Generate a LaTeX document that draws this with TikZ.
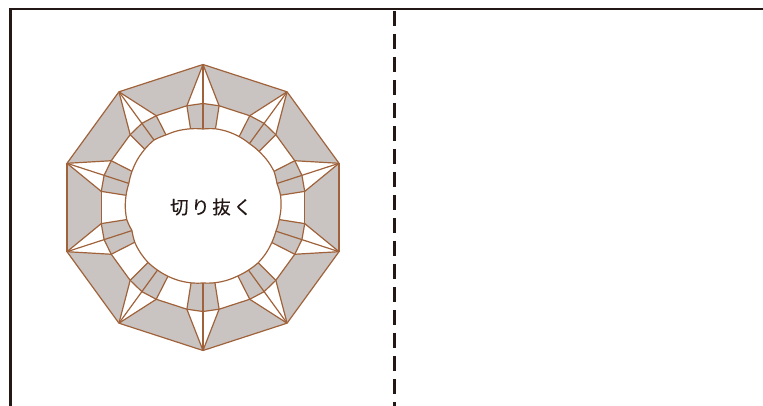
\documentclass[tikz,border=0pt]{standalone}
\usepackage{fontspec}
\usepackage{xcolor}
\newfontfamily\cjk[LetterSpace=14,FakeBold=0.25]{Noto Sans CJK JP}
\definecolor{framecol}{HTML}{231815}
\definecolor{cutcol}{HTML}{A0623A}
\definecolor{bandcol}{HTML}{C9C4C2}

\begin{document}
\begin{tikzpicture}[
  x=1pt, y=1pt,
  frameline/.style={draw=framecol, line width=2.8pt},
  foldline/.style={frameline, dash pattern=on 15.5pt off 7.5pt},
  band/.style={fill=bandcol},
  cut/.style={draw=cutcol, line width=1.2pt, line join=round},
  label/.style={font=\cjk\fontsize{18.5}{18.5}\selectfont, text=framecol, inner sep=0pt}
]
\useasboundingbox (0,0) rectangle (763,406);
\coordinate (corner) at (10.5,397);
\coordinate (foldtop) at (394.5,395);
\draw[frameline] (10.5,0) -- (corner) -- (763,397);
\draw[foldline] (foldtop) -- (394.5,0);

\begin{scope}[shift={(203,198.5)}]
\foreach \ang/\rl/\rc/\rr in {18/79.7/77.8/78.5, 54/79.6/79/79.3, 90/79.7/78.5/79.7,
    126/82.4/83.4/81.5, 162/77.9/78/79.7, 198/76.6/74.7/77.2, 234/77.2/77.4/77.7,
    270/76.2/75.5/76.3, 306/78.1/77.4/76.8, 342/77.2/76.7/77.2}{
  \coordinate (v\ang) at (\ang:143);
  \coordinate (m\ang) at (\ang:104);
  \coordinate (a\ang) at ({\ang+9}:103);
  \coordinate (b\ang) at ({\ang-9}:103);
  \coordinate (p\ang) at ({\ang+9}:\rl);
  \coordinate (c\ang) at (\ang:\rc);
  \coordinate (q\ang) at ({\ang-9}:\rr);
}
\foreach \ang/\nxt in {18/54, 54/90, 90/126, 126/162, 162/198, 198/234, 234/270, 270/306, 306/342, 342/18}{
  \fill[band] (v\ang) -- (v\nxt) -- (b\nxt) -- (a\ang) -- cycle;
  \fill[band] (b\ang) -- (m\ang) -- (a\ang) -- (p\ang) to[bend left=4] (c\ang) to[bend left=4] (q\ang) -- cycle;
}
\foreach \ang/\nxt in {18/54, 54/90, 90/126, 126/162, 162/198, 198/234, 234/270, 270/306, 306/342, 342/18}{
  \draw[cut] (v\ang) -- (v\nxt);
  \draw[cut] (a\ang) -- (b\nxt);
  \draw[cut] (b\ang) -- (m\ang) -- (a\ang);
  \draw[cut] (v\ang) -- (b\ang) -- (q\ang);
  \draw[cut] (v\ang) -- (a\ang) -- (p\ang);
  \draw[cut] (v\ang) -- (c\ang);
  \draw[cut] (q\ang) to[bend right=4] (c\ang) to[bend right=4] (p\ang) to[bend right=9] (q\nxt);
}
\end{scope}

\node[label] (cuttext) at (211,199) {切り抜く};
\end{tikzpicture}
\end{document}
